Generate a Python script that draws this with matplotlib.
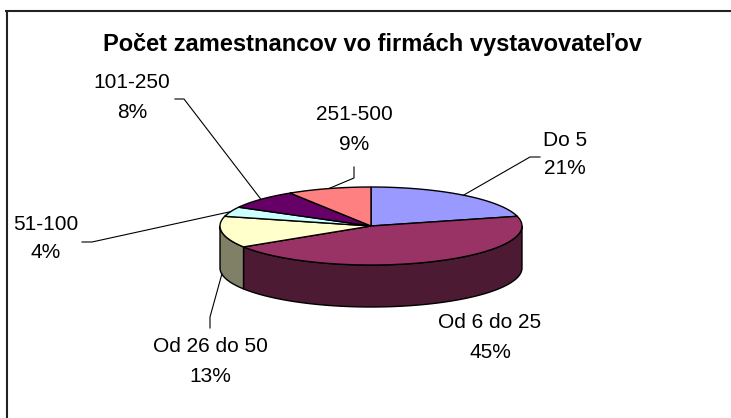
import numpy as np
import matplotlib
matplotlib.use("Agg")
import matplotlib.pyplot as plt
from matplotlib.patches import Polygon

# ---- data ----
categories = ["Do 5", "Od 6 do 25", "Od 26 do 50", "51-100", "101-250", "251-500"]
percents = [21, 45, 13, 4, 8, 9]
title = "Počet zamestnancov vo firmách vystavovateľov"

# ---- style ----
top_colors = ["#9999FF", "#993366", "#FFFFCC", "#CCFFFF", "#660066", "#FF8080"]
side_colors = ["#4D4D80", "#4D1A33", "#808066", "#668080", "#330033", "#804040"]
# label centres (x, y of first line, y of second line) and leader bends
label_pos = [(565, 140, 169), (490, 322, 353), (210, 346, 377),
             (46, 225, 253), (132, 83, 112), (354, 115, 145)]
leader_bends = [[(530, 157), (540, 157)], None, [(210, 317), (210, 328)],
                [(92, 242), (82, 242)], [(184, 99), (175, 99)],
                [(354, 178), (354, 167)]]

plt.rcParams['font.family'] = ['Liberation Sans', 'DejaVu Sans']

W, H = 731, 418
fig = plt.figure(figsize=(W / 100, H / 100), dpi=100)
ax = fig.add_axes([0, 0, 1, 1])
ax.set_xlim(0, W)
ax.set_ylim(H, 0)
ax.axis("off")

cx, cy, rx, ry, depth = 371, 226, 151, 39, 42


def pt(theta_deg, dy=0.0):
    t = np.radians(theta_deg)
    return cx + rx * np.sin(t), cy - ry * np.cos(t) + dy


def arc(a, b, dy=0.0, n=80):
    th = np.linspace(a, b, n)
    t = np.radians(th)
    return np.column_stack([cx + rx * np.sin(t), cy - ry * np.cos(t) + dy])


total = float(sum(percents))
bounds = np.concatenate([[0], np.cumsum(percents) / total * 360.0])

# sides (front visible part: 90..270 degrees, clockwise from top)
for i in range(len(percents)):
    a, b = bounds[i], bounds[i + 1]
    lo, hi = max(a, 90), min(b, 270)
    if hi > lo:
        top = arc(lo, hi)
        bot = arc(lo, hi, depth)[::-1]
        ax.add_patch(Polygon(np.vstack([top, bot]), closed=True,
                             facecolor=side_colors[i], edgecolor="black",
                             linewidth=1.0, zorder=2))

# top faces
for i in range(len(percents)):
    a, b = bounds[i], bounds[i + 1]
    poly = np.vstack([[cx, cy], arc(a, b)])
    ax.add_patch(Polygon(poly, closed=True, facecolor=top_colors[i],
                         edgecolor="black", linewidth=1.0, zorder=3))

# labels and leader lines
for i, cat in enumerate(categories):
    mid = (bounds[i] + bounds[i + 1]) / 2
    x, y1, y2 = label_pos[i]
    ax.text(x, y1, cat, ha="center", va="center", fontsize=15, zorder=5)
    ax.text(x, y2, f"{percents[i]}%", ha="center", va="center",
            fontsize=15, zorder=5)
    if leader_bends[i] is not None:
        dy = depth if 90 < mid < 270 else 0.0
        ax0 = pt(mid, dy)
        xs = [ax0[0]] + [p[0] for p in leader_bends[i]]
        ys = [ax0[1]] + [p[1] for p in leader_bends[i]]
        ax.plot(xs, ys, color="black", linewidth=0.8, zorder=4)

ax.text(372, 44, title, ha="center", va="center", fontsize=17,
        fontweight="bold")

# chart frame (top and left visible)
ax.plot([5, W], [11, 11], color="#222222", linewidth=1.5, solid_capstyle="butt")
ax.plot([7, 7], [11, H], color="#222222", linewidth=1.5, solid_capstyle="butt")

fig.savefig("out.png", dpi=100)
